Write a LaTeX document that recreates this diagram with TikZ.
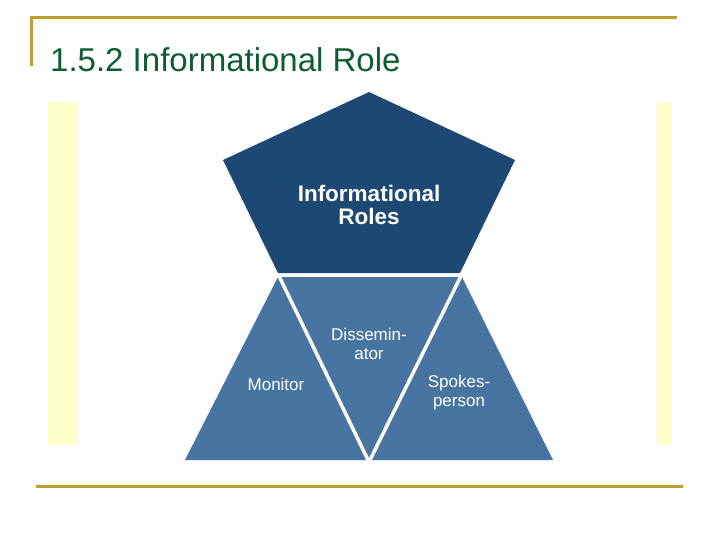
\documentclass[tikz,border=0pt]{standalone}
\usepackage{fontspec}
\setmainfont{Liberation Sans}
\usetikzlibrary{positioning}
\definecolor{rulegold}{RGB}{190,158,48}
\definecolor{titlegreen}{RGB}{14,92,52}
\definecolor{stripyellow}{RGB}{255,255,204}
\definecolor{roledark}{RGB}{30,72,116}
\definecolor{rolelight}{RGB}{72,116,162}

\begin{document}
\begin{tikzpicture}[x=1pt, y=-1pt,
  rolelabel/.style={text=white, font=\fontsize{17}{19}\selectfont, align=center, inner sep=0pt},
  goldrule/.style={rulegold, line width=3pt}]
\useasboundingbox (0,0) rectangle (720,540);
% slide frame
\draw[goldrule] (31,66) -- (31,18) -- (677,18);
\draw[goldrule] (36,486) -- (683,486);
\node[anchor=base west, text=titlegreen, font=\fontsize{33}{36}\selectfont, inner sep=0pt] (title) at (50,72) {1.5.2 Informational Role};
% pale side strips
\fill[stripyellow] (48,102) rectangle (78,445);
\fill[stripyellow] (657,102) rectangle (672,445);
% pentagon on top
\fill[roledark] (369,92) -- (515,160) -- (460,273) -- (278,273) -- (223,160) -- cycle;
\node[rolelabel, font=\bfseries\fontsize{22.5}{23}\selectfont] (info) at (369,205) {Informational\\Roles};
% three triangles below
\fill[rolelight] (278,277) -- (462,277) -- (553,460) -- (185,460) -- cycle;
\draw[white, line width=3.5pt] (279,276) -- (369,462) -- (461,276);
\node[rolelabel] (dissem) at (369,344) {Dissemin-\\ator};
\node[rolelabel] (monitor) at (276,384) {Monitor};
\node[rolelabel] (spokes) at (459,393) {Spokes-\\person};
\end{tikzpicture}
\end{document}
